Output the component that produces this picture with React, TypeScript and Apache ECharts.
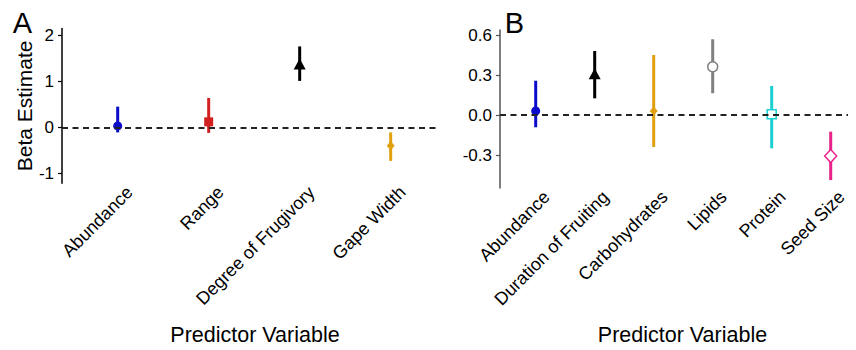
import React, { useEffect, useRef } from "react";
import * as echarts from "echarts";

// ---- Panel A data ----
const catsA = ["Abundance", "Range", "Degree of Frugivory", "Gape Width"];
const estA = [0.03, 0.12, 1.38, -0.4];
const lowA = [-0.11, -0.12, 1.01, -0.73];
const highA = [0.45, 0.64, 1.76, -0.11];
const colorsA = ["#0b0bcc", "#d1201f", "#000000", "#e0a010"];
const shapesA = ["circle", "square", "triangle", "smallDiamond"];
const yTicksA = [-1, 0, 1, 2];

// ---- Panel B data ----
const catsB = ["Abundance", "Duration of Fruiting", "Carbohydrates", "Lipids", "Protein", "Seed Size"];
const estB = [0.03, 0.31, 0.03, 0.362, 0.005, -0.308];
const lowB = [-0.092, 0.125, -0.24, 0.163, -0.25, -0.488];
const highB = [0.257, 0.48, 0.45, 0.568, 0.218, -0.125];
const colorsB = ["#0b0bcc", "#000000", "#e0a010", "#808080", "#1ccfd2", "#e8228a"];
const shapesB = ["circle", "triangle", "smallDiamond", "openCircle", "openSquare", "openDiamond"];
const yTicksB = [-0.3, 0, 0.3, 0.6];

const FONT = "'Liberation Sans', Arial, sans-serif";

const markerStyle: Record<string, { symbol: string; size: any; open: boolean }> = {
  circle: { symbol: "circle", size: 9, open: false },
  square: { symbol: "rect", size: 9, open: false },
  triangle: { symbol: "triangle", size: [12, 11], open: false },
  smallDiamond: { symbol: "diamond", size: [8, 9], open: false },
  openCircle: { symbol: "circle", size: 10, open: true },
  openSquare: { symbol: "rect", size: 9, open: true },
  openDiamond: { symbol: "diamond", size: [12, 13], open: true },
};

function errorBarSeries(idx: number, low: number[], high: number[], colors: string[]) {
  return {
    type: "custom",
    xAxisIndex: idx,
    yAxisIndex: idx,
    z: 2,
    silent: true,
    encode: { x: 0, y: [1, 2] },
    data: low.map((lo, i) => ({
      value: [i + 1, lo, high[i]],
      itemStyle: { color: colors[i] },
    })),
    renderItem: (params: any, api: any) => {
      const x = api.value(0);
      const p1 = api.coord([x, api.value(1)]);
      const p2 = api.coord([x, api.value(2)]);
      return {
        type: "line",
        shape: { x1: p1[0], y1: p1[1], x2: p2[0], y2: p2[1] },
        style: { stroke: api.visual("color"), lineWidth: 3 },
      };
    },
    markLine: {
      silent: true,
      symbol: ["none", "none"],
      label: { show: false },
      lineStyle: { type: [6, 4.5], color: "#222", width: 2 },
      data: [{ yAxis: 0 }],
    },
  };
}

function pointSeries(idx: number, est: number[], colors: string[], shapes: string[]) {
  return {
    type: "scatter",
    xAxisIndex: idx,
    yAxisIndex: idx,
    z: 3,
    silent: true,
    data: est.map((v, i) => {
      const m = markerStyle[shapes[i]];
      return {
        value: [i + 1, v],
        symbol: m.symbol,
        symbolSize: m.size,
        itemStyle: {
          color: m.open ? "#ffffff" : colors[i],
          borderColor: colors[i],
          borderWidth: m.open ? 1.5 : 0,
          opacity: 1,
        },
      };
    }),
  };
}

const shiftA = 0.132;
const shiftB = 0.186;

export default function App() {
  const ref = useRef<HTMLDivElement>(null);
  useEffect(() => {
    if (!ref.current) return;
    const chart = echarts.init(ref.current, undefined, { renderer: "svg" });
    const textColor = "#000";
    chart.setOption({
      animation: false,
      backgroundColor: "#ffffff",
      textStyle: { fontFamily: FONT },
      grid: [
        { left: 62, top: 28.5, width: 378, height: 154.8, containLabel: false },
        { left: 500, top: 30, width: 355, height: 158, containLabel: false },
      ],
      xAxis: [
        {
          gridIndex: 0,
          type: "value",
          min: 0.388,
          max: 4.542,
          axisLine: { show: false, onZero: false },
          axisTick: { show: false },
          splitLine: { show: false },
          axisLabel: {
            customValues: catsA.map((_, i) => i + 1 + shiftA),
            formatter: (v: number) => catsA[Math.round(v - shiftA) - 1] ?? "",
            rotate: 45,
            fontSize: 18,
            margin: 6,
            color: textColor,
            fontFamily: FONT,
          },
          name: "Predictor Variable",
          nameLocation: "middle",
          nameGap: 141,
          nameTextStyle: { fontSize: 21.5, color: textColor, fontFamily: FONT, padding: [0, 0, 0, 8] },
        },
        {
          gridIndex: 1,
          type: "value",
          min: 0.395,
          max: 6.412,
          axisLine: { show: false, onZero: false },
          axisTick: { show: false },
          splitLine: { show: false },
          axisLabel: {
            customValues: catsB.map((_, i) => i + 1 + shiftB),
            formatter: (v: number) => catsB[Math.round(v - shiftB) - 1] ?? "",
            rotate: 45,
            fontSize: 18,
            margin: 6,
            color: textColor,
            fontFamily: FONT,
          },
          name: "Predictor Variable",
          nameLocation: "middle",
          nameGap: 136,
          nameTextStyle: { fontSize: 21.5, color: textColor, fontFamily: FONT, padding: [0, 0, 0, 10] },
        },
      ],
      yAxis: [
        {
          gridIndex: 0,
          type: "value",
          min: -1.217,
          max: 2.15,
          axisLine: { show: true, onZero: false, lineStyle: { color: "#000", width: 1.5 } },
          axisTick: { show: true, length: 4, customValues: yTicksA, lineStyle: { color: "#000", width: 1.2 } },
          axisLabel: {
            customValues: yTicksA,
            formatter: (v: number) => String(v),
            fontSize: 17,
            margin: 8,
            color: textColor,
            fontFamily: FONT,
          },
          splitLine: { show: false },
          name: "Beta Estimate",
          nameLocation: "middle",
          nameGap: 26,
          nameTextStyle: { fontSize: 21, color: textColor, fontFamily: FONT },
        },
        {
          gridIndex: 1,
          type: "value",
          min: -0.5475,
          max: 0.6375,
          axisLine: { show: true, onZero: false, lineStyle: { color: "#555", width: 1.5 } },
          axisTick: { show: true, length: 4, customValues: yTicksB, lineStyle: { color: "#555", width: 1.2 } },
          axisLabel: {
            customValues: yTicksB,
            formatter: (v: number) => v.toFixed(1),
            fontSize: 17,
            margin: 8,
            color: textColor,
            fontFamily: FONT,
          },
          splitLine: { show: false },
        },
      ],
      graphic: [
        {
          type: "text",
          x: 22.5,
          y: 22.5,
          style: { text: "A", fontSize: 29, fill: "#000", fontFamily: FONT, align: "center", verticalAlign: "middle" },
        },
        {
          type: "text",
          x: 514.5,
          y: 23,
          style: { text: "B", fontSize: 29, fill: "#000", fontFamily: FONT, align: "center", verticalAlign: "middle" },
        },
      ],
      series: [
        errorBarSeries(0, lowA, highA, colorsA),
        pointSeries(0, estA, colorsA, shapesA),
        errorBarSeries(1, lowB, highB, colorsB),
        pointSeries(1, estB, colorsB, shapesB),
      ],
    });
    return () => chart.dispose();
  }, []);
  return <div ref={ref} style={{ width: 856, height: 350, margin: -8 }} />;
}
